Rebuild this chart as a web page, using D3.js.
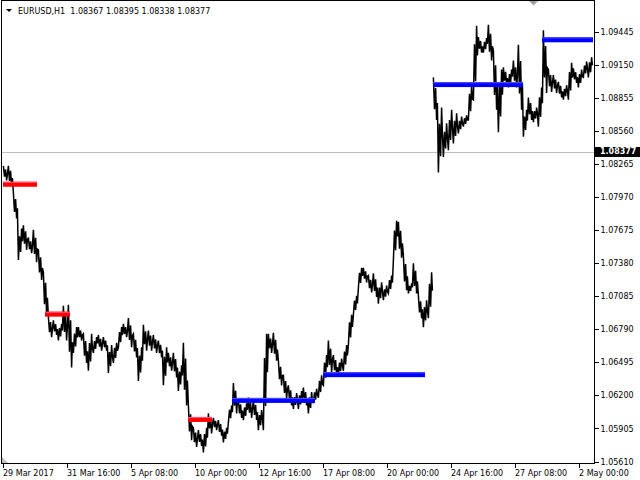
<!DOCTYPE html>
<html><head><meta charset="utf-8">
<script src="https://cdn.jsdelivr.net/npm/d3@7"></script>
<style>
body{margin:0;background:#fff}
svg{display:block}
text{font-family:"DejaVu Sans",sans-serif;font-size:8px;fill:#000}
</style>
</head><body><svg id="c" width="640" height="480"></svg>
<script>
// ---- data ----
const symbol = "EURUSD,H1";
const ohlc = [1.08367, 1.08395, 1.08338, 1.08377];
const lastPrice = 1.08377;
const barsPerBlock = 5;       // each block = 5 H1 bars
const hi = [
1.0825,1.0825,1.0801,1.0769,1.0772,1.0761,1.0768,1.0750,1.0730,1.0690,
1.0687,1.0684,1.0700,1.0701,1.0681,1.0681,1.0675,1.0675,1.0672,1.0674,
1.0672,1.0665,1.0667,1.0681,1.0684,1.0689,1.0675,1.0663,1.0683,1.0678,
1.0674,1.0669,1.0663,1.0658,1.0658,1.0647,1.0667,1.0611,1.0591,1.0589,
1.0591,1.0604,1.0600,1.0598,1.0591,1.0611,1.0631,1.0616,1.0613,1.0618,
1.0616,1.0607,1.0675,1.0675,1.0676,1.0651,1.0638,1.0629,1.0622,1.0624,
1.0627,1.0623,1.0626,1.0638,1.0656,1.0669,1.0656,1.0653,1.0665,1.0692,
1.0709,1.0734,1.0734,1.0727,1.0729,1.0721,1.0718,1.0727,1.0776,1.0775,
1.0745,1.0720,1.0738,1.0709,1.0705,1.0730,
1.0904,1.0877,1.0863,1.0875,1.0872,1.0869,1.0870,1.0897,1.0950,1.0940,
1.0939,1.0951,1.0928,1.0911,1.0913,1.0911,1.0919,1.0933,1.0875,1.0886,
1.0877,1.0895,1.0946,1.0911,1.0906,1.0900,1.0897,1.0917,1.0912,1.0911,
1.0918,1.0922];
const lo = [
1.0812,1.0807,1.0778,1.0741,1.0750,1.0747,1.0739,1.0723,1.0692,1.0672,
1.0674,1.0669,1.0669,1.0645,1.0658,1.0669,1.0649,1.0642,1.0658,1.0660,
1.0660,1.0640,1.0649,1.0663,1.0672,1.0663,1.0654,1.0633,1.0660,1.0660,
1.0658,1.0654,1.0629,1.0642,1.0636,1.0624,1.0611,1.0580,1.0574,1.0575,
1.0569,1.0586,1.0589,1.0584,1.0578,1.0596,1.0604,1.0600,1.0598,1.0600,
1.0598,1.0589,1.0589,1.0658,1.0651,1.0629,1.0617,1.0611,1.0608,1.0608,
1.0611,1.0604,1.0613,1.0618,1.0629,1.0640,1.0638,1.0638,1.0642,1.0665,
1.0692,1.0716,1.0721,1.0712,1.0708,1.0702,1.0705,1.0711,1.0741,1.0743,
1.0714,1.0711,1.0711,1.0689,1.0681,1.0689,
1.0866,1.0819,1.0833,1.0839,1.0845,1.0854,1.0860,1.0866,1.0884,1.0926,
1.0926,1.0919,1.0875,1.0855,1.0897,1.0895,1.0895,1.0875,1.0851,1.0866,
1.0864,1.0860,1.0890,1.0891,1.0890,1.0886,1.0884,1.0884,1.0899,1.0895,
1.0904,1.0904];
const breakBefore = [86];     // weekend gap (no connection)
const yTicks = [1.09445,1.09150,1.08855,1.08560,1.08265,1.07970,1.07675,1.07380,1.07085,1.06790,1.06495,1.06200,1.05905,1.05610];
const xTickBars = [0,64,128,192,256,320,384,448,512,576];
const xTickLabels = ["29 Mar 2017","31 Mar 16:00","5 Apr 08:00","10 Apr 00:00","12 Apr 16:00","17 Apr 08:00","20 Apr 00:00","24 Apr 16:00","27 Apr 08:00","2 May 00:00"];
const lvlStart = [0,42,185,229,320,430,539];
const lvlEnd   = [34,67,209,312,422,520,590];
const lvlPrice = [1.0809,1.0693,1.0599,1.0616,1.0639,1.0898,1.0938];
const lvlSide  = ["sell","sell","sell","buy","buy","buy","buy"];

// ---- chart ----
const svg = d3.select("#c");
svg.append("rect").attr("width",640).attr("height",480).attr("fill","#fff");
const x = d3.scaleLinear().domain([0,591]).range([3,594]);
const y = d3.scaleLinear().domain([1.05610,1.09445]).range([461.5,32]);

// current price line
svg.append("line").attr("x1",2).attr("x2",594).attr("y1",Math.round(y(lastPrice))+0.5).attr("y2",Math.round(y(lastPrice))+0.5)
  .attr("stroke","#c0c0c0").attr("stroke-width",1);

// price path: dense zigzag through each block's high/low (mimics compressed H1 bars)
const pts = [];
hi.forEach((h,k)=>{
  if (breakBefore.includes(k)) pts.push(null);
  const mid=(h+lo[k])/2;
  const nmid = k+1<hi.length ? (hi[k+1]+lo[k+1])/2 : mid;
  const up = nmid>=mid;
  const a = up?lo[k]:h, b = up?h:lo[k];
  const b0 = k*barsPerBlock;
  pts.push({b:b0+0.4, p:a});
  pts.push({b:b0+1.5, p:a+(b-a)*0.75});
  pts.push({b:b0+2.6, p:a+(b-a)*0.25});
  pts.push({b:b0+3.6, p:b});
  pts.push({b:b0+4.4, p:a+(b-a)*0.6});
});
const line = d3.line().defined(d=>d!==null).x(d=>x(d.b)).y(d=>y(d.p));
svg.append("path").attr("d",line(pts)).attr("fill","none").attr("stroke","#000").attr("stroke-width",1.5).attr("stroke-linejoin","miter");

// levels
const lv = svg.append("g");
lvlPrice.forEach((p,i)=>{
  const col = lvlSide[i]==="sell"?"#ff0000":"#0000ff";
  const light = lvlSide[i]==="sell"?"#ff5070":"#4848ff";
  const yy = y(p);
  lv.append("rect").attr("x",x(lvlStart[i])).attr("width",x(lvlEnd[i])-x(lvlStart[i])).attr("y",yy-2).attr("height",5).attr("fill",col);
  lv.append("rect").attr("x",x(lvlStart[i])).attr("width",x(lvlEnd[i])-x(lvlStart[i])).attr("y",yy-2).attr("height",1.2).attr("fill",light);
});

// frame
svg.append("path").attr("d","M1.5,463.5V0.5H594.5V463.5H1.5").attr("fill","none").attr("stroke","#000").attr("stroke-width",1).attr("shape-rendering","crispEdges");

// right axis
const ra = svg.append("g").attr("transform","translate(594.5,0)")
  .call(d3.axisRight(y).tickValues(yTicks).tickSize(4).tickPadding(2).tickFormat(d3.format(".5f")));
ra.select(".domain").remove();
ra.selectAll("line").attr("stroke","#000").attr("shape-rendering","crispEdges");
ra.selectAll("text").style("font-family","DejaVu Sans").style("font-size","8px").attr("fill","#000");

// bottom axis
const ba = svg.append("g").attr("transform","translate(0,463.5)")
  .call(d3.axisBottom(x).tickValues(xTickBars).tickSize(4).tickPadding(3).tickFormat((d,i)=>xTickLabels[i]));
ba.select(".domain").remove();
ba.selectAll("line").attr("stroke","#000").attr("shape-rendering","crispEdges");
ba.selectAll("text").attr("text-anchor","start").attr("dx",-0.5).style("font-family","DejaVu Sans").style("font-size","8px").attr("fill","#000");

// current price label
const ly = y(lastPrice);
svg.append("rect").attr("x",595).attr("y",Math.round(ly)-5).attr("width",45).attr("height",10).attr("fill","#000");
svg.append("text").attr("x",600).attr("y",ly).attr("dy","0.35em").style("fill","#fff").style("font-weight","bold").text(d3.format(".5f")(lastPrice));

// title
svg.append("path").attr("d","M6,9H12L9,12Z").attr("fill","#000");
svg.append("text").attr("x",18).attr("y",14).attr("xml:space","preserve")
  .text(symbol+"  "+ohlc.map(d3.format(".5f")).join(" "));

// markers
svg.append("path").attr("d","M529,1H538L533.5,5.5Z").attr("fill","#a0a0a0");
svg.append("path").attr("d","M2,457L8,463H2Z").attr("fill","#c0c0c0");
</script>
</body></html>
